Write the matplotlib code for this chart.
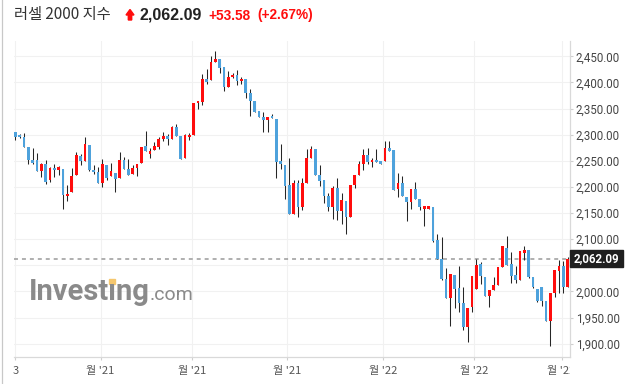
import matplotlib.pyplot as plt
from matplotlib.patches import Rectangle, Polygon
from matplotlib.transforms import Bbox, TransformedBbox

# weekly candles
opens = [2305, 2299, 2295, 2277, 2252, 2252, 2230, 2244, 2213, 2237,
         2233, 2235, 2182, 2190, 2222, 2260, 2249, 2281, 2233, 2229,
         2207, 2242, 2220, 2226, 2218, 2252, 2235, 2224, 2237, 2245,
         2278, 2263, 2271, 2277, 2292, 2298, 2292, 2314, 2298, 2256,
         2295, 2300, 2360, 2363, 2407, 2405, 2439, 2445, 2430, 2392,
         2410, 2414, 2402, 2407, 2380, 2365, 2345, 2334, 2328, 2336,
         2330, 2250, 2242, 2204, 2149, 2208, 2161, 2208, 2256, 2273,
         2223, 2213, 2182, 2161, 2198, 2153, 2174, 2143, 2204, 2223,
         2244, 2262, 2248, 2252, 2249, 2249, 2275, 2271, 2196, 2208,
         2181, 2172, 2196, 2177, 2158, 2158, 2161, 2098, 2063, 2024,
         1988, 2032, 2006, 1977, 1932, 1970, 2004, 2052, 2028, 1991,
         2003, 2012, 2047, 2084, 2053, 2031, 2022, 2074, 2079, 2028,
         2004, 2008, 1982, 1944, 1997, 2040, 2049, 2008.51]
highs = [2306, 2301, 2303, 2277, 2275, 2265, 2246, 2251, 2238, 2244,
         2241, 2235, 2203, 2237, 2267, 2263, 2295, 2281, 2242, 2239,
         2253, 2242, 2246, 2226, 2267, 2258, 2254, 2242, 2244, 2277,
         2307, 2274, 2286, 2295, 2305, 2302, 2317, 2321, 2298, 2301,
         2303, 2361, 2365, 2416, 2425, 2450, 2461, 2445, 2430, 2421,
         2419, 2423, 2410, 2407, 2387, 2365, 2345, 2344, 2334, 2339,
         2330, 2282, 2242, 2256, 2213, 2213, 2218, 2273, 2278, 2273,
         2242, 2213, 2188, 2202, 2217, 2188, 2174, 2204, 2223, 2250,
         2273, 2275, 2255, 2272, 2249, 2287, 2288, 2271, 2226, 2220,
         2181, 2196, 2210, 2177, 2164, 2164, 2161, 2109, 2105, 2044,
         2033, 2032, 2049, 2008, 1968, 2030, 2063, 2056, 2028, 2003,
         2027, 2047, 2086, 2106, 2075, 2049, 2077, 2086, 2079, 2028,
         2004, 2008, 1982, 1997, 2041, 2060, 2059, 2066]
lows = [2289, 2294, 2277, 2244, 2244, 2230, 2219, 2205, 2209, 2219,
        2223, 2158, 2174, 2190, 2222, 2242, 2249, 2230, 2225, 2207,
        2200, 2214, 2220, 2190, 2218, 2235, 2222, 2224, 2221, 2245,
        2268, 2256, 2271, 2273, 2288, 2280, 2292, 2298, 2254, 2256,
        2290, 2300, 2349, 2356, 2397, 2405, 2439, 2418, 2383, 2392,
        2408, 2395, 2397, 2371, 2336, 2344, 2333, 2305, 2306, 2331,
        2218, 2234, 2176, 2149, 2149, 2143, 2156, 2208, 2256, 2222,
        2201, 2170, 2153, 2139, 2136, 2129, 2110, 2143, 2198, 2223,
        2232, 2243, 2239, 2247, 2243, 2249, 2269, 2195, 2180, 2182,
        2134, 2158, 2177, 2156, 2126, 2158, 2095, 2062, 2022, 1988,
        1933, 1968, 1960, 1926, 1903, 1960, 2004, 2014, 1991, 1970,
        2003, 2012, 2047, 2051, 2016, 2016, 2022, 2061, 2026, 2007,
        1979, 1972, 1944, 1896, 1989, 1997, 1997, 2008.51]
closes = [2295, 2295, 2277, 2251, 2246, 2230, 2243, 2210, 2237, 2232,
          2239, 2184, 2187, 2220, 2261, 2249, 2283, 2232, 2228, 2207,
          2244, 2218, 2231, 2216, 2252, 2235, 2222, 2237, 2244, 2277,
          2268, 2269, 2279, 2292, 2298, 2292, 2314, 2298, 2254, 2300,
          2299, 2361, 2365, 2407, 2400, 2439, 2445, 2428, 2392, 2410,
          2414, 2403, 2407, 2379, 2365, 2344, 2333, 2328, 2334, 2331,
          2247, 2243, 2201, 2149, 2208, 2161, 2207, 2256, 2273, 2222,
          2212, 2182, 2161, 2197, 2153, 2175, 2142, 2204, 2223, 2244,
          2262, 2248, 2252, 2247, 2243, 2275, 2269, 2195, 2208, 2182,
          2172, 2196, 2177, 2161, 2164, 2164, 2097, 2062, 2024, 1988,
          2033, 2004, 1977, 1932, 1968, 2030, 2050, 2030, 1991, 2003,
          2012, 2047, 2086, 2051, 2030, 2021, 2077, 2079, 2028, 2009,
          1981, 1981, 1944, 1997, 2041, 2049, 2008.51, 2062.09]

last_price = 2062.09
change = 53.58
change_pct = 2.67

tick_pos = [0, 19.6, 40.6, 62.5, 84.5, 105.5, 125.6]
tick_labels = ["3", "월 '21", "월 '21", "월 '21", "월 '22", "월 '22", "월 '22"]
y_ticks = list(range(1900, 2451, 50))

W, H = 630, 384
KR = ['Noto Sans CJK KR', 'DejaVu Sans']


def fx(x):
    return x / W


def fy(y):
    return 1 - y / H


fig = plt.figure(figsize=(6.3, 3.84), dpi=100)
ax = fig.add_axes([fx(13.5), fy(357), fx(570.3) - fx(13.5), fy(41) - fy(357)])

up_col, down_col, wick_col = '#ff0d0d', '#4ea2dc', '#262626'
xs = list(range(len(opens)))
for i in xs:
    o, h, l, c = opens[i], highs[i], lows[i], closes[i]
    ax.vlines(i, l, h, color=wick_col, lw=0.75, zorder=3)
    bottom = min(o, c)
    height = max(abs(c - o), 2.5)
    ax.bar(i, height, bottom=bottom, width=0.62,
           color=up_col if c >= o else down_col, zorder=4, linewidth=0)

ax.axhline(last_price, color='#9a9a9a', lw=1.1, ls=(0, (2.6, 2.6)), zorder=2)

ax.set_xlim(-0.41, 127.59)
ax.set_ylim(1874.5, 2479.3)

ax.yaxis.tick_right()
ax.set_yticks(y_ticks)
# the 2,050 label sits under the last-price box
ax.set_yticklabels(["" if v == 2050 else f"{v:,.2f}" for v in y_ticks],
                   fontfamily='Roboto', fontsize=8.3, color='#444444')
ax.set_xticks(tick_pos)
ax.set_xticklabels([])
ax.tick_params(axis='y', length=2.2, width=0.8, color='#cfcfcf', pad=1.8)
ax.tick_params(axis='x', length=2.2, width=0.8, color='#cfcfcf')
ax.grid(True, color='#f1f1f1', lw=0.8, zorder=0)
ax.set_axisbelow(True)

for side in ['top', 'left']:
    ax.spines[side].set_visible(False)
for side in ['right', 'bottom']:
    ax.spines[side].set_color('#d9d9d9')
    ax.spines[side].set_linewidth(0.9)

clip = TransformedBbox(Bbox([[0, 0], [fx(570.3), 1]]), fig.transFigure)
for pos, lab in zip(tick_pos, tick_labels):
    t = ax.text(pos, -0.044, lab, transform=ax.get_xaxis_transform(),
                ha='center', va='center', fontsize=8, color='#555555',
                family=KR)
    t.set_clip_on(True)
    t.set_clip_box(clip)

# widget left border
fig.add_artist(plt.Line2D([fx(2.3), fx(2.3)], [0, 1], color='#c8c8c8', lw=0.9))

# title
fig.text(fx(14), fy(19.5), "러셀 2000 지수", family=KR, fontsize=11,
         color='#333333', va='baseline')
fig.patches.append(Polygon(
    [(fx(130), fy(9.5)), (fx(126), fy(15)), (fx(128.3), fy(15)), (fx(128.3), fy(20)),
     (fx(131.7), fy(20)), (fx(131.7), fy(15)), (fx(134), fy(15))],
    closed=True, color='#ff0d0d', transform=fig.transFigure, figure=fig))
fig.text(fx(140), fy(19.5), f"{last_price:,.2f}", family='Liberation Sans',
         fontweight='bold', fontsize=11.5, color='#222222', va='baseline')
fig.text(fx(208), fy(19.5), f"+{change:.2f}", family='Liberation Sans',
         fontweight='bold', fontsize=9.8, color='#ff0d0d', va='baseline')
fig.text(fx(257), fy(19.5), f"(+{change_pct:.2f}%)", family='Liberation Sans',
         fontweight='bold', fontsize=9.8, color='#ff0d0d', va='baseline')

# last price box
fig.patches.append(Rectangle((fx(570), fy(267)), fx(623) - fx(570), fy(250) - fy(267),
                             color='#1f1f1f', transform=fig.transFigure, figure=fig, zorder=5))
fig.text(fx(596.5), fy(258.7), f"{last_price:,.2f}", family='Roboto', fontweight='bold',
         fontsize=8.3, color='white', ha='center', va='center', zorder=6)

# watermark
fig.text(fx(29), fy(300), "Investıng", family='Roboto', fontweight='bold',
         fontsize=21, color='#8a8a8a', va='baseline')
fig.text(fx(150), fy(300), ".com", family='Roboto', fontsize=14,
         color='#8a8a8a', va='baseline')
fig.patches.append(Rectangle((fx(109), fy(284)), fx(6), 5 / H, color='#f5c76e',
                             transform=fig.transFigure, figure=fig))

fig.savefig('out.png', dpi=100, facecolor='white')
